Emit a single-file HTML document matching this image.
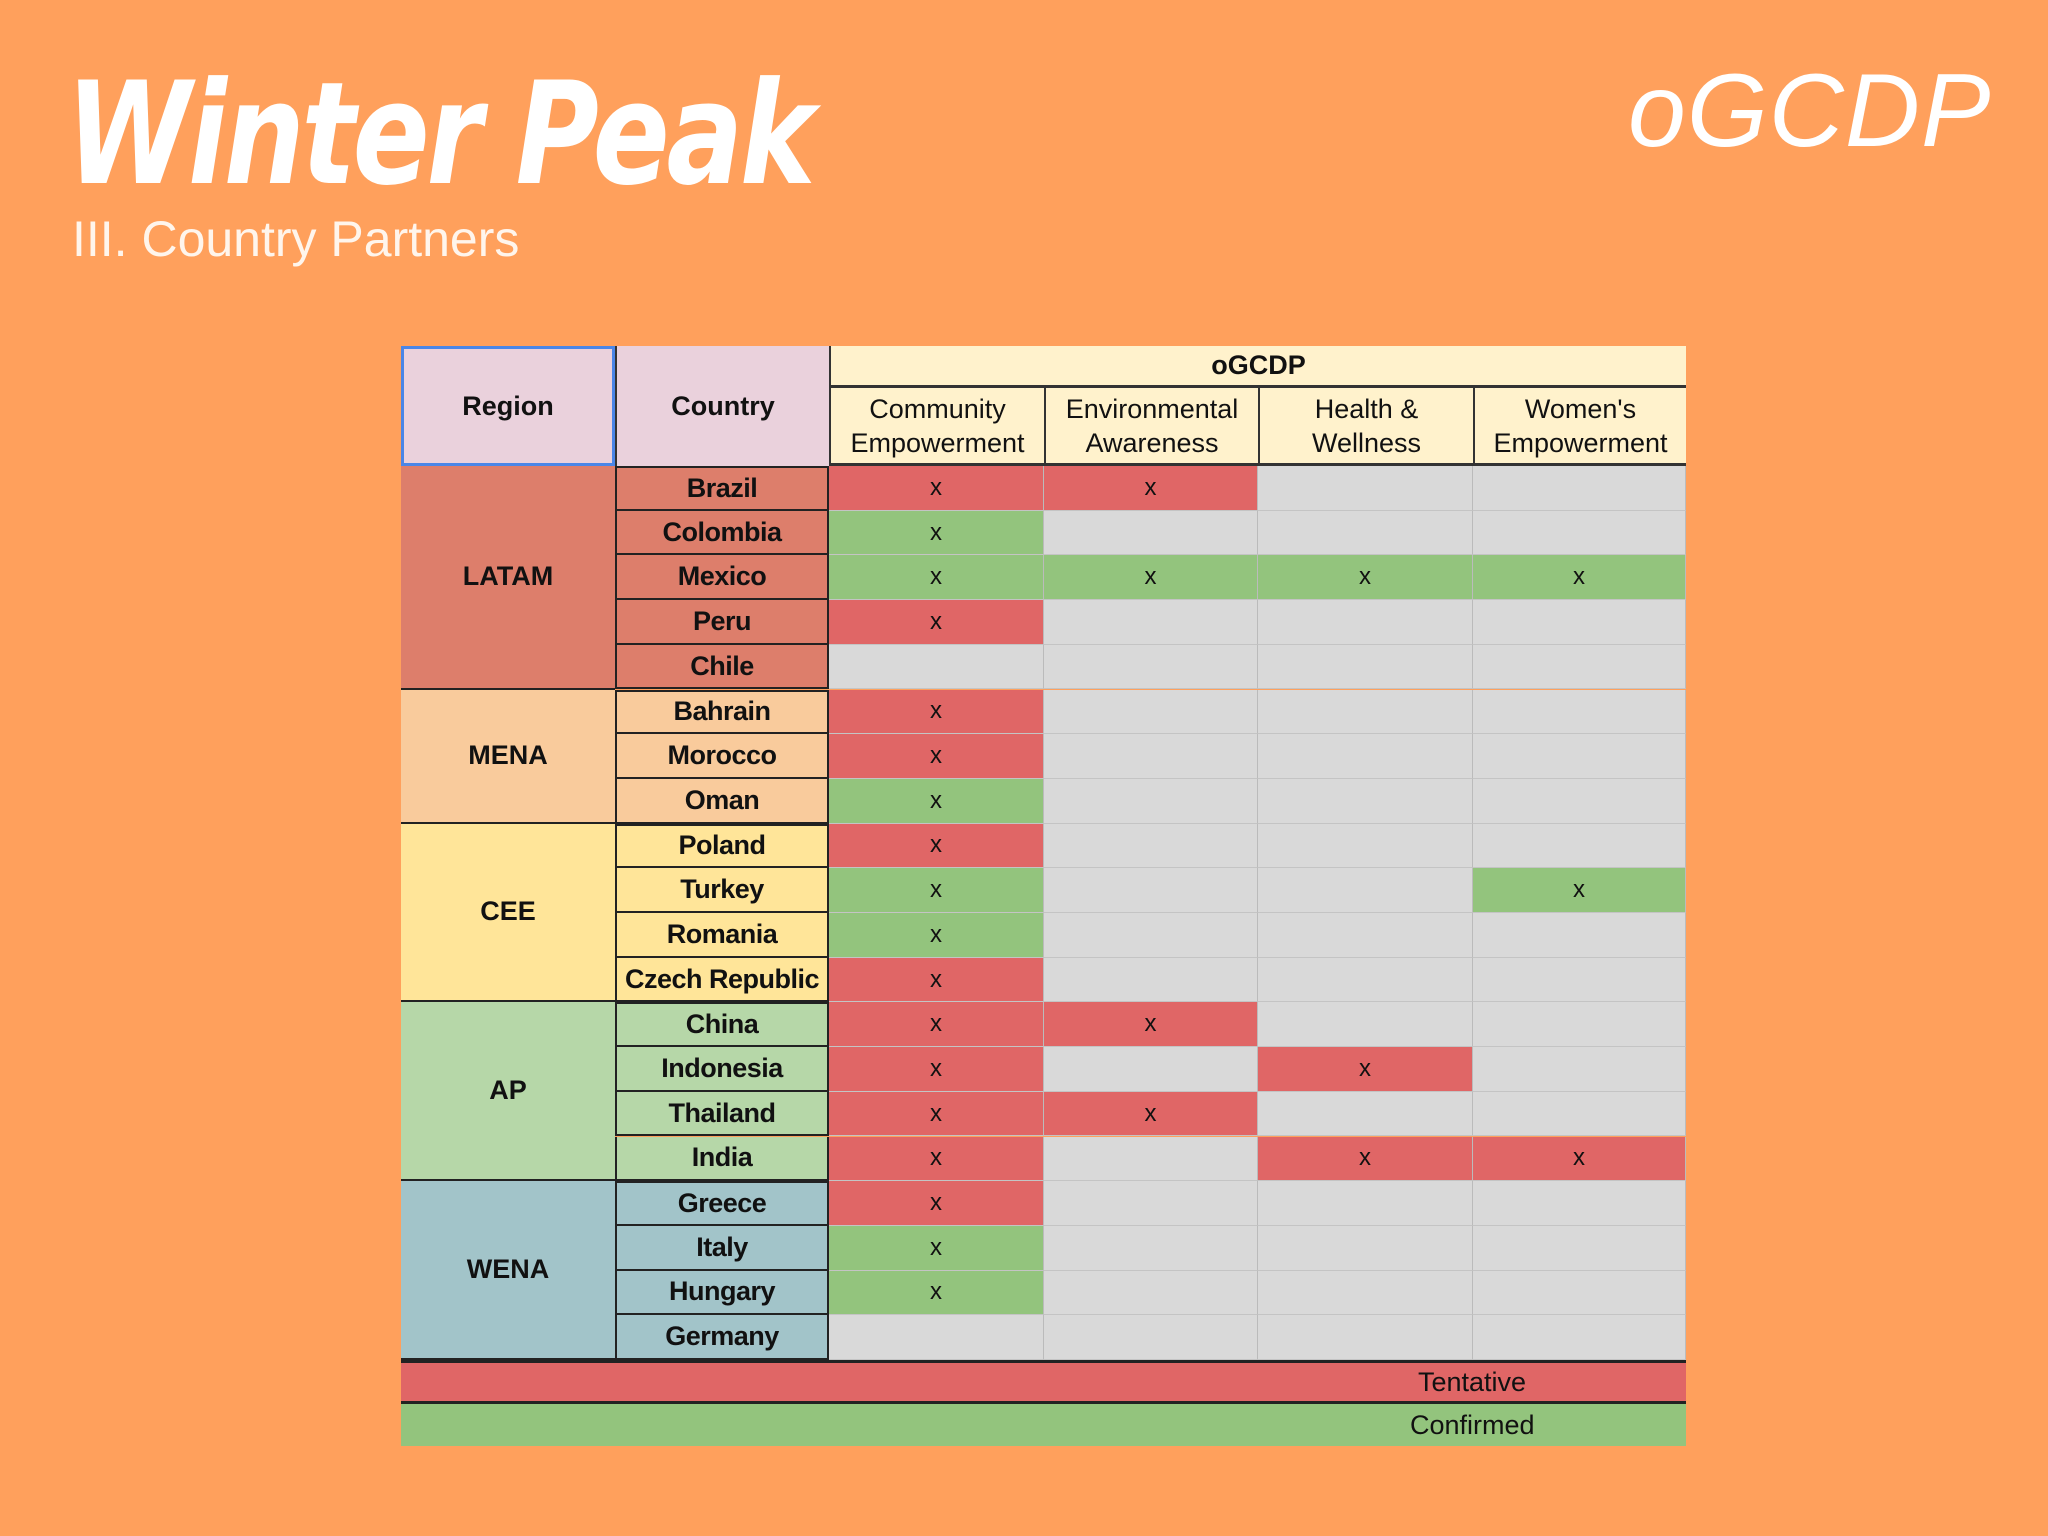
<!DOCTYPE html>
<html><head><meta charset="utf-8"><style>
body{margin:0;width:2048px;height:1536px;background:#FFA05C;position:relative;overflow:hidden;font-family:"Liberation Sans",sans-serif}
.t{position:absolute;color:#fff}
#grid{position:absolute;left:401px;top:346px;width:1285px;height:1100px}
.c{position:absolute;box-sizing:border-box;display:flex;align-items:center;justify-content:center;text-align:center;font-size:27px;color:#111}
</style></head><body>
<div class="t" style="left:66px;top:52px;font-size:142px;font-weight:bold;font-style:italic;font-family:'DejaVu Sans',sans-serif;letter-spacing:-4px;transform:scaleX(0.8);transform-origin:left">Winter Peak</div>
<div class="t" style="left:72px;top:210px;font-size:50px;color:#fff5ec">III. Country Partners</div>
<div class="t" style="left:1628px;top:52px;font-size:104px;font-style:italic;letter-spacing:1px">oGCDP</div>
<div id="grid"></div>
<script>
const countries=["Brazil","Colombia","Mexico","Peru","Chile","Bahrain","Morocco","Oman","Poland","Turkey","Romania","Czech Republic","China","Indonesia","Thailand","India","Greece","Italy","Hungary","Germany"];
const statuses=["TT--","C---","CCCC","T---","----","T---","T---","C---","T---","C--C","C---","T---","TT--","T-T-","TT--","T-TT","T---","C---","C---","----"];
const regions=["LATAM","MENA","CEE","AP","WENA"];
const regionSizes=[5,3,4,4,4];
const programs=["Community<br>Empowerment","Environmental<br>Awareness","Health &amp;<br>Wellness","Women's<br>Empowerment"];
const regionColors=["#DD7E6B","#F9CB9C","#FFE599","#B6D7A8","#A2C4C9"];
const g=document.getElementById('grid');
const cols=[0,214,428,643,857,1072,1285],top0=120,rh=44.7;
function cell(x,y,w,h,bg,html,extra){const d=document.createElement('div');d.className='c';d.style.cssText=`left:${x}px;top:${y}px;width:${w}px;height:${h}px;background:${bg};`+(extra||'');d.innerHTML=html;g.appendChild(d);return d;}
let e;
e=cell(0,0,214,top0,'#EAD1DC','<b>Region</b>','border:3px solid #4A86E8;');

e=cell(214,0,214,top0,'#EAD1DC','<b>Country</b>','border-left:2px solid #333;');

e=cell(428,0,857,42,'#FFF2CC','<b>oGCDP</b>','border-left:2px solid #333;border-bottom:3px solid #333;');

programs.forEach((p,i)=>{e=cell(cols[i+2],42,cols[i+3]-cols[i+2],78,'#FFF2CC',p,'border-left:2px solid #333;border-bottom:3px solid #333;line-height:34px;');
});
let r0=0;
regions.forEach((r,i)=>{e=cell(0,top0+r0*rh,214,regionSizes[i]*rh,regionColors[i],'<b>'+r+'</b>','border-bottom:2px solid #222;');

for(let k=0;k<regionSizes[i];k++){const ri=r0+k;const y=top0+ri*rh;
e=cell(214,y,214,rh,regionColors[i],'<b>'+countries[ri]+'</b>','border:2px solid #222;border-top:none;'+(k==0?'border-top:2px solid #222;':'')+'letter-spacing:-0.5px;');

for(let j=0;j<4;j++){const s=statuses[ri][j];const bg=s=='T'?'#E06666':s=='C'?'#93C47D':'#D9D9D9';
e=cell(cols[j+2],y,cols[j+3]-cols[j+2],rh,bg,s=='-'?'':'x','border-right:1px solid #bbb;border-bottom:1px solid #c4c4c4;font-size:24px;');
}}
r0+=regionSizes[i];});
const ly=top0+20*rh;
e=cell(0,ly,1285,44,'#E06666','Tentative','border-top:3px solid #222;border-bottom:3px solid #222;justify-content:flex-start;padding-left:1017px;');

e=cell(0,ly+44,1285,42,'#93C47D','Confirmed','justify-content:flex-start;padding-left:1009px;');

</script>
</body></html>
